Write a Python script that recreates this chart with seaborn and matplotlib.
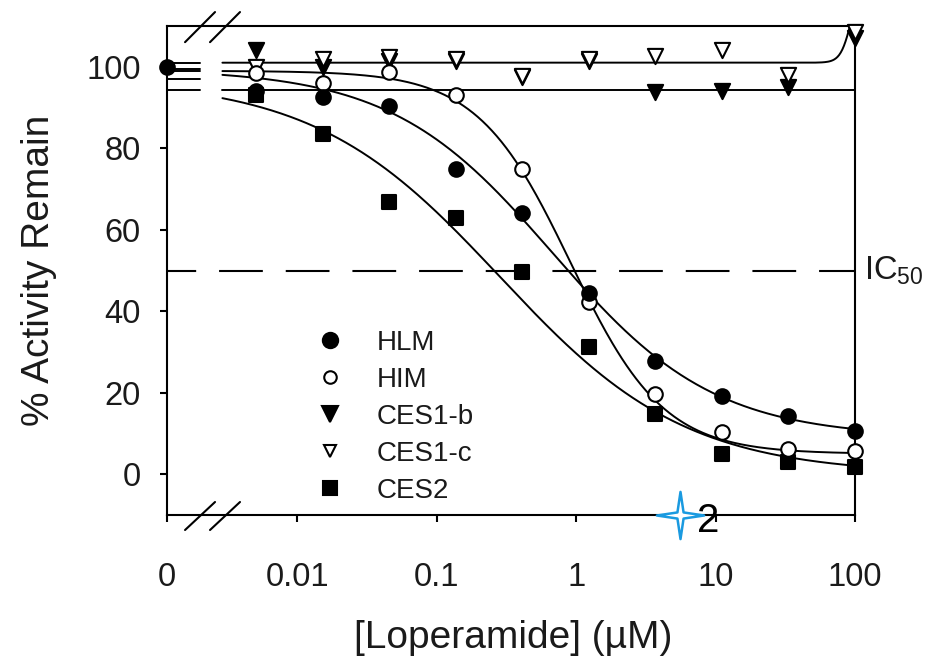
import numpy as np
import pandas as pd
import matplotlib
matplotlib.use("Agg")
import matplotlib.pyplot as plt
import seaborn as sns
from matplotlib.lines import Line2D
from matplotlib.path import Path

# ---------------- data ----------------
NA = float("nan")
conc = [0, 0.00508, 0.0152, 0.0457, 0.137, 0.412, 1.23, 3.70, 11.1, 33.3, 100]
hlm = [100, 94.0, 92.5, 90.3, 75.0, 64.0, 44.5, 27.7, 19.1, 14.2, 10.5]
him = [NA, 98.5, 96.0, 98.6, 93.0, 74.8, 42.2, 19.6, 10.3, 6.1, 5.6]
ces1b = [NA, 104.0, 100.0, 101.5, 101.5, 97.5, 101.5, 93.7, 94.0, 95.0, 107.0]
ces1c = [NA, 100.0, 102.0, 102.5, 102.0, 97.7, 102.0, 102.6, 104.0, 98.0, 108.5]
ces2 = [NA, 93.0, 83.4, 66.7, 63.0, 49.6, 31.2, 14.7, 4.9, 2.9, 1.7]

series_names = ["HLM", "HIM", "CES1-b", "CES1-c", "CES2"]
series_values = {"HLM": hlm, "HIM": him, "CES1-b": ces1b, "CES1-c": ces1c, "CES2": ces2}

# Hill fit parameters (top, bottom, IC50, slope)
hill_fits = {"HLM": (99.5, 9.0, 0.68, 0.75),
             "HIM": (99.0, 5.0, 0.91, 1.3),
             "CES2": (97.0, 0.0, 0.283, 0.65)}
ces1b_level = 94.3
ces1c_fit = (101.0, 20.0, 93.6, 11.5)  # base, rise, half, slope

x_tick_values = [0, 0.01, 0.1, 1, 10, 100]
x_tick_labels = ["0", "0.01", "0.1", "1", "10", "100"]
y_tick_values = [0, 20, 40, 60, 80, 100]
ic50_level = 50

# ---------------- style ----------------
sns.set_style("ticks")
plt.rcParams["font.family"] = ["Liberation Sans", "DejaVu Sans"]
plt.rcParams["mathtext.fontset"] = "custom"
plt.rcParams["mathtext.rm"] = "Liberation Sans"

ZERO_POS = 10 ** -2.935          # where "0" sits on the broken log axis
SEG_END = 0.0020                 # end of the short segment in the zero region
CURVE_START = 0.0029             # curves resume after the break

markers = {"HLM": ("o", "black"), "HIM": ("o", "white"), "CES1-b": ("v", "black"),
           "CES1-c": ("v", "white"), "CES2": ("s", "black")}
draw_order = ["CES2", "CES1-b", "CES1-c", "HIM", "HLM"]
text_color = "#1a1a1a"

fig = plt.figure(figsize=(9.33, 6.59), dpi=100)
ax = fig.add_axes([0.179, 0.2185, 0.7374, 0.742])
ax.set_xscale("log")
ax.set_xlim(ZERO_POS, 100)
ax.set_ylim(-10, 110)


def plot_x(c):
    return np.where(np.asarray(c, dtype=float) == 0, ZERO_POS, c)


def hill(x, top, bottom, ic50, n):
    return bottom + (top - bottom) / (1 + (x / ic50) ** n)


xg = np.logspace(np.log10(CURVE_START), 2, 400)
line_kw = dict(color="black", linewidth=1.4, ax=ax, estimator=None, sort=False, legend=False)

for name, (top, bottom, ic50, n) in hill_fits.items():
    sns.lineplot(x=xg, y=hill(xg, top, bottom, ic50, n), **line_kw)
    sns.lineplot(x=[ZERO_POS, SEG_END], y=[top, top], **line_kw)

sns.lineplot(x=xg, y=np.full_like(xg, ces1b_level), **line_kw)
sns.lineplot(x=[ZERO_POS, SEG_END], y=[ces1b_level] * 2, **line_kw)

base, rise, half, k = ces1c_fit
sns.lineplot(x=xg, y=base + rise / (1 + (half / xg) ** k), **line_kw)
sns.lineplot(x=[ZERO_POS, SEG_END], y=[base] * 2, **line_kw)

# IC50 dashed line
ax.axhline(ic50_level, color="black", linewidth=1.5, linestyle=(7, (21, 11)), zorder=2)

# data points
df = pd.DataFrame({"conc": np.tile(conc, len(series_names)),
                   "activity": np.concatenate([series_values[s] for s in series_names]),
                   "enzyme": np.repeat(series_names, len(conc))}).dropna()
for name in draw_order:
    sub = df[df["enzyme"] == name]
    m, face = markers[name]
    size = 120 if m == "v" else 110
    sns.scatterplot(x=plot_x(sub["conc"]), y=sub["activity"].values, marker=m, s=size,
                    color=face, edgecolor="black", linewidth=1.5, ax=ax,
                    zorder=4, clip_on=False, legend=False)

# axes styling
for sp in ax.spines.values():
    sp.set_linewidth(1.5)
    sp.set_color("black")
ax.set_xticks(plot_x(x_tick_values))
ax.set_xticklabels(x_tick_labels)
ax.xaxis.set_minor_locator(matplotlib.ticker.NullLocator())
ax.set_yticks(y_tick_values)
ax.tick_params(axis="both", direction="out", length=5, width=1.5, colors="black",
               labelcolor=text_color, labelsize=23.5)
ax.tick_params(axis="y", pad=14)
ax.tick_params(axis="x", pad=29)

ax.set_xlabel("[Loperamide] (\u00b5M)", fontsize=28, color=text_color)
ax.set_ylabel("% Activity Remain", fontsize=28, color=text_color)
ax.xaxis.set_label_coords(0.503, -0.215)
ax.yaxis.set_label_coords(-0.16, 0.50)

# IC50 label
ax.text(1.013, ic50_level, r"IC$_{\mathregular{50}}$", transform=ax.get_yaxis_transform(),
        fontsize=23.5, color=text_color, va="center", ha="left")

# axis break marks
break_pairs = [((0.0262, -0.0307), (0.0698, 0.0266)), ((0.0625, -0.0307), (0.1061, 0.0266)),
               ((0.0262, 0.967), (0.0698, 1.0286)), ((0.0625, 0.967), (0.1061, 1.0286))]
for (xa, ya), (xb, yb) in break_pairs:
    ax.plot([xa, xb], [ya, yb], transform=ax.transAxes, color="black", lw=1.5, clip_on=False, zorder=5)

# legend
handles = []
for name in series_names:
    m, face = markers[name]
    msz = {"HLM": 11, "HIM": 9, "CES1-b": 11, "CES1-c": 9, "CES2": 10}[name]
    handles.append(Line2D([], [], marker=m, linestyle="none", markerfacecolor=face,
                          markeredgecolor="black", markeredgewidth=1.5, markersize=msz))
leg = ax.legend(handles, series_names, loc="upper left", bbox_to_anchor=(0.216, 0.379),
                frameon=False, fontsize=20, handlelength=1.0, handletextpad=1.2,
                labelspacing=0.4, borderpad=0, borderaxespad=0)
for t in leg.get_texts():
    t.set_color(text_color)

# blue star annotation with "2"
star = Path([(0, 1), (0.13, 0.13), (1, 0), (0.13, -0.13), (0, -1), (-0.13, -0.13),
             (-1, 0), (-0.13, 0.13), (0, 1)],
            [Path.MOVETO] + [Path.LINETO] * 7 + [Path.CLOSEPOLY])
ax.plot([0.7456], [0.0], marker=star, markersize=34, markerfacecolor="white",
        markeredgecolor="#1a9ae0", markeredgewidth=1.8, transform=ax.transAxes,
        clip_on=False, zorder=6, linestyle="none")
ax.text(0.7705, -0.012, "2", transform=ax.transAxes, fontsize=29, color="black",
        ha="left", va="center", zorder=6, family=["Liberation Sans", "DejaVu Sans"])

fig.savefig("out.png", dpi=100)
